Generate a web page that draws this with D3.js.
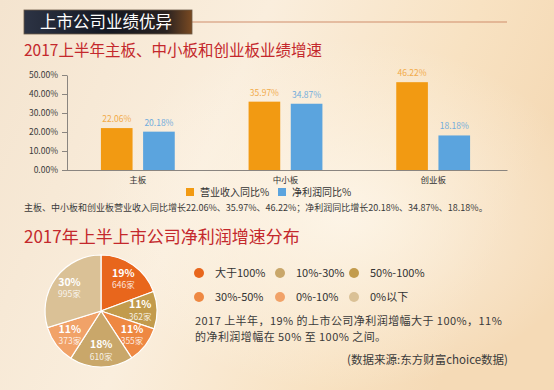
<!DOCTYPE html>
<html>
<head>
<meta charset="utf-8">
<script src="https://cdn.jsdelivr.net/npm/d3@7"></script>
<style>
    html, body { margin: 0; padding: 0; }
    body { width: 554px; height: 390px; overflow: hidden; }
    svg text { font-family: "Noto Sans CJK SC", "Noto Sans", sans-serif; }
</style>
</head>
<body>
<div id="app"></div>
<script>
// bar chart data
const boards = ["主板", "中小板", "创业板"];
const seriesNames = ["营业收入同比%", "净利润同比%"];
const revenueGrowth = [22.06, 35.97, 46.22];
const profitGrowth = [20.18, 34.87, 18.18];
const yTicks = [0, 10, 20, 30, 40, 50];

// pie data (clockwise from 12 o'clock)
const pieGroups = ["大于100%", "50%-100%", "30%-50%", "10%-30%", "0%-10%", "0%以下"];
const pieCounts = [646, 362, 355, 610, 373, 995];
const piePercents = [19, 11, 11, 18, 11, 30];
const legendOrder = ["大于100%", "10%-30%", "50%-100%", "30%-50%", "0%-10%", "0%以下"];

const W = 554, H = 390;

const svg = d3.select("#app").append("svg")
    .attr("width", W)
    .attr("height", H);

const defs = svg.append("defs");

// warm paper background
const bg = defs.append("linearGradient").attr("id", "bg")
    .attr("x1", 0).attr("y1", 0).attr("x2", 1).attr("y2", 0.3);
bg.append("stop").attr("offset", 0).attr("stop-color", "#f4e4cf");
bg.append("stop").attr("offset", 0.45).attr("stop-color", "#faeedd");
bg.append("stop").attr("offset", 0.8).attr("stop-color", "#f8e2c2");
bg.append("stop").attr("offset", 1).attr("stop-color", "#f5dab6");

const glow = defs.append("radialGradient").attr("id", "glow")
    .attr("cx", 0.62).attr("cy", 0.55).attr("r", 0.45);
glow.append("stop").attr("offset", 0).attr("stop-color", "#fdf6ea").attr("stop-opacity", 0.9);
glow.append("stop").attr("offset", 1).attr("stop-color", "#fdf6ea").attr("stop-opacity", 0);

svg.append("rect").attr("width", W).attr("height", H).attr("fill", "url(#bg)");
svg.append("rect").attr("width", W).attr("height", H).attr("fill", "url(#glow)");

// header badge
const hdr = defs.append("linearGradient").attr("id", "hdr")
    .attr("x1", 0).attr("y1", 0).attr("x2", 1).attr("y2", 0);
hdr.append("stop").attr("offset", 0).attr("stop-color", "#2c3344");
hdr.append("stop").attr("offset", 0.5).attr("stop-color", "#141822");
hdr.append("stop").attr("offset", 0.85).attr("stop-color", "#2a2220");
hdr.append("stop").attr("offset", 1).attr("stop-color", "#7a4a22");

svg.append("line")
    .attr("x1", 192).attr("x2", 507)
    .attr("y1", 22).attr("y2", 22)
    .attr("stroke", "#cf8d6c")
    .attr("stroke-width", 1.2);

svg.append("rect")
    .attr("x", 24).attr("y", 10)
    .attr("width", 168).attr("height", 24)
    .attr("fill", "url(#hdr)")
    .attr("stroke", "#6b5a48")
    .attr("stroke-width", 0.8);

svg.append("text")
    .attr("x", 40).attr("y", 28)
    .attr("fill", "#fff")
    .attr("font-size", 16.5)
    .text("上市公司业绩优异");

// titles
svg.append("text")
    .attr("x", 24).attr("y", 56)
    .attr("fill", "#c4282c")
    .attr("font-size", 15.5)
    .text("2017上半年主板、中小板和创业板业绩增速");

// ---- bar chart ----
const y = d3.scaleLinear().domain([0, 50]).range([170, 75]);
const x0 = d3.scaleBand().domain(boards).range([64, 507])
    .paddingInner(0.5).paddingOuter(0.25);
const x1 = d3.scaleBand().domain(seriesNames).range([0, x0.bandwidth()])
    .paddingInner(0.25);
const barColor = d3.scaleOrdinal().domain(seriesNames).range(["#f29a12", "#5ba4de"]);
const labelColor = d3.scaleOrdinal().domain(seriesNames).range(["#f2ab4a", "#72acdc"]);

const barData = boards.map((b, i) => ({
    board: b,
    values: [
        { key: seriesNames[0], value: revenueGrowth[i] },
        { key: seriesNames[1], value: profitGrowth[i] },
    ],
}));

const yAxis = svg.append("g")
    .attr("transform", "translate(67,0)")
    .call(d3.axisLeft(y).tickValues(yTicks).tickSize(5).tickSizeOuter(0)
        .tickPadding(4).tickFormat((d) => d.toFixed(2) + "%"));
yAxis.select(".domain").attr("stroke", "#8a8580");
yAxis.selectAll(".tick line").attr("stroke", "#8a8580");
yAxis.selectAll(".tick text")
    .attr("fill", "#3a3a3a")
    .attr("font-size", 8.5)
    .style("font-family", "'Noto Sans CJK SC', sans-serif");

const xAxis = svg.append("g")
    .attr("transform", "translate(0,170)")
    .call(d3.axisBottom(x0).tickSize(0).tickSizeOuter(0).tickPadding(7));
xAxis.select(".domain").attr("stroke", "#8a8580");
xAxis.selectAll(".tick text")
    .attr("fill", "#333")
    .attr("font-size", 8.5)
    .style("font-family", "'Noto Sans CJK SC', sans-serif");

const group = svg.selectAll(".grp")
    .data(barData)
    .enter()
    .append("g")
    .attr("class", "grp")
    .attr("transform", (d) => "translate(" + x0(d.board) + ",0)");

group.selectAll("rect")
    .data((d) => d.values)
    .enter()
    .append("rect")
    .attr("x", (d) => x1(d.key))
    .attr("y", (d) => y(d.value))
    .attr("width", x1.bandwidth())
    .attr("height", (d) => y(0) - y(d.value))
    .attr("fill", (d) => barColor(d.key));

group.selectAll(".val")
    .data((d) => d.values)
    .enter()
    .append("text")
    .attr("class", "val")
    .attr("x", (d) => x1(d.key) + x1.bandwidth() / 2)
    .attr("y", (d) => y(d.value) - 6)
    .attr("text-anchor", "middle")
    .attr("font-size", 8.5)
    .attr("fill", (d) => labelColor(d.key))
    .text((d) => d.value.toFixed(2) + "%");

// bar legend
const barLegend = svg.append("g")
    .selectAll("g")
    .data(seriesNames)
    .enter()
    .append("g")
    .attr("transform", (d, i) => "translate(" + (186 + i * 92) + ",188)");
barLegend.append("rect")
    .attr("width", 8).attr("height", 8)
    .attr("fill", (d) => barColor(d));
barLegend.append("text")
    .attr("x", 14).attr("y", 8)
    .attr("font-size", 10)
    .attr("fill", "#333")
    .text((d) => d);

const fmt = (arr) => arr.map((v) => v.toFixed(2) + "%").join("、");
svg.append("text")
    .attr("x", 24).attr("y", 211)
    .attr("font-size", 9)
    .attr("fill", "#3a3a3a")
    .text("主板、中小板和创业板营业收入同比增长" + fmt(revenueGrowth)
        + "；净利润同比增长" + fmt(profitGrowth) + "。");

// ---- pie chart ----
svg.append("text")
    .attr("x", 24).attr("y", 243)
    .attr("fill", "#c4282c")
    .attr("font-size", 17)
    .text("2017年上半上市公司净利润增速分布");

const pieColor = d3.scaleOrdinal()
    .domain(pieGroups)
    .range(["#e8661c", "#c29b4c", "#ee8842", "#c9a76a", "#f1a268", "#dac196"]);

const pieData = pieGroups.map((g, i) => ({ group: g, count: pieCounts[i], pct: piePercents[i] }));
const R = 56;
const pie = d3.pie().sort(null).value((d) => d.count);
const arc = d3.arc().innerRadius(0).outerRadius(R);
const labelArc = d3.arc().innerRadius(R * 0.7).outerRadius(R * 0.7);

const pg = svg.append("g").attr("transform", "translate(101,311)");
const slices = pg.selectAll(".slice")
    .data(pie(pieData))
    .enter()
    .append("g")
    .attr("class", "slice");

slices.append("path")
    .attr("d", arc)
    .attr("fill", (d) => pieColor(d.data.group))
    .attr("stroke", "#fff")
    .attr("stroke-width", 1.2);

const lbl = slices.append("text")
    .attr("transform", (d) => "translate(" + labelArc.centroid(d) + ")")
    .attr("text-anchor", "middle")
    .attr("fill", "#fff");
lbl.append("tspan")
    .attr("x", 0).attr("y", -2)
    .attr("font-size", 10.5)
    .attr("font-weight", "bold")
    .text((d) => d.data.pct + "%");
lbl.append("tspan")
    .attr("x", 0).attr("y", 9.5)
    .attr("font-size", 8.5)
    .attr("fill-opacity", 0.85)
    .text((d) => d.data.count + "家");

// pie legend
const pieLegend = svg.append("g")
    .selectAll("g")
    .data(legendOrder)
    .enter()
    .append("g")
    .attr("transform", (d, i) => "translate(" + [199, 280, 354][i % 3] + "," + (273 + Math.floor(i / 3) * 24) + ")");
pieLegend.append("circle")
    .attr("r", 5)
    .attr("fill", (d) => pieColor(d));
pieLegend.append("text")
    .attr("x", 16).attr("y", 4)
    .attr("font-size", 11)
    .attr("fill", "#333")
    .text((d) => d);

const para = svg.append("text")
    .attr("font-size", 11)
    .attr("letter-spacing", 0.45)
    .attr("fill", "#3a3a3a");
para.append("tspan")
    .attr("x", 195).attr("y", 325)
    .text("2017 上半年，" + piePercents[0] + "% 的上市公司净利润增幅大于 100%，" + piePercents[1] + "%");
para.append("tspan")
    .attr("x", 195).attr("y", 341)
    .text("的净利润增幅在 50% 至 100% 之间。");

svg.append("text")
    .attr("x", 508).attr("y", 364)
    .attr("text-anchor", "end")
    .attr("font-size", 11.5)
    .attr("fill", "#3a3a3a")
    .text("(数据来源:东方财富choice数据)");
</script>
</body>
</html>
